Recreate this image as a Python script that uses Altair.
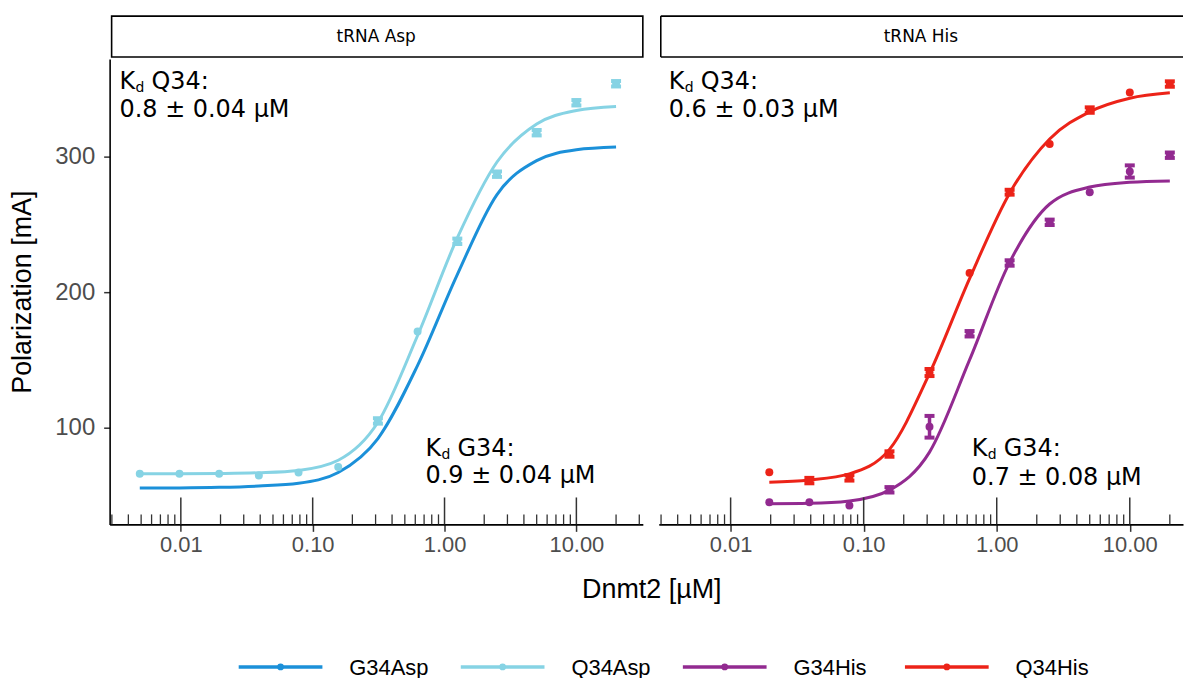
import altair as alt
import pandas as pd

# Dnmt2 titration steps (µM), two-fold dilutions
conc_asp = [0.0048828125, 0.009765625, 0.01953125, 0.0390625, 0.078125, 0.15625,
            0.3125, 0.625, 1.25, 2.5, 5.0, 10.0, 20.0]
conc_his = conc_asp[2:]

series_names = ["G34Asp", "Q34Asp", "G34His", "Q34His"]
series_colors = ["#1b90d9", "#86d3e4", "#922a90", "#ec2318"]

# measured polarization (mA): mean and spread per titration step
q34asp_mean = [66, 66, 66, 64.7, 67, 71, 105, 171, 237.5, 287, 317.6, 339.7, 353.7]
q34asp_sd = [0, 0, 0, 0, 0, 0, 2.0, 0, 2.0, 2.0, 2.0, 2.0, 2.0]
g34his_mean = [45.1, 45.1, 42.6, 54.2, 100.7, 169.3, 221.5, 251.5, 273.7, 289, 301]
g34his_sd = [0, 0, 0, 2.0, 8, 2.0, 2.0, 2.0, 0, 4.5, 2.0]
q34his_mean = [67.1, 61, 63, 80.6, 140.7, 214.2, 273.7, 309.3, 334.3, 347.3, 353.5]
q34his_sd = [0, 2.0, 2.0, 2.0, 2.6, 0, 1.8, 0, 2.0, 0, 2.0]

# fitted binding curves at each titration step
g34asp_fit = [55.5, 55.6, 56, 57, 59, 67, 92, 146, 213, 272, 297, 305, 307]
q34asp_fit = [66, 66, 66.2, 66.8, 68.5, 76, 104, 168, 240, 296, 324, 334, 337]
g34his_fit = [43.9, 44.2, 46, 54, 82, 150, 222, 265, 277.5, 281, 282]
q34his_fit = [59.8, 61.5, 66, 84, 140, 210, 273, 313, 333, 343, 347]

# K_d annotations: [x, y line 1, y line 2, label, value]
asp_notes = [[0.00343, 355.1, 334.5, "Q34:", "0.8 ± 0.04 µM"],
             [0.718, 84.6, 64.0, "G34:", "0.9 ± 0.04 µM"]]
his_notes = [[0.00343, 355.1, 334.5, "Q34:", "0.6 ± 0.03 µM"],
             [0.65, 84.6, 63.0, "G34:", "0.7 ± 0.08 µM"]]

x_ticks = [0.01, 0.1, 1, 10]
X_MIN = 10 ** -2.54
Y_DOMAIN = [28.7, 372]
H = 467
LABEL_FONT = "Liberation Sans"
NOTE_FONT = "DejaVu Sans"
NOTE_SIZE = 24

color_scale = alt.Scale(domain=series_names, range=series_colors)


def points_frame(name, conc, mean, sd):
    return pd.DataFrame({"series": name, "conc": conc, "pol": mean,
                         "lo": [m - s for m, s in zip(mean, sd)],
                         "hi": [m + s for m, s in zip(mean, sd)],
                         "sd": sd})


def fit_frame(name, conc, fit):
    return pd.DataFrame({"series": name, "conc": conc, "pol": fit})


def panel(points, fits, width, x_max, strip_label, notes, show_y, closed_strip):
    xs = alt.Scale(type="log", domain=[X_MIN, x_max], nice=False)
    ys = alt.Scale(domain=Y_DOMAIN, nice=False, zero=False)
    x_axis = alt.Axis(values=x_ticks, format=".2f", tickSize=7, tickWidth=1.5,
                      tickColor="#333333", domainColor="black", domainWidth=1.6,
                      labelColor="#4d4d4d", labelFontSize=22, labelFont=LABEL_FONT,
                      labelPadding=3, title=None, grid=False, labelFlush=False)
    if show_y:
        y_axis = alt.Axis(values=[100, 200, 300], tickSize=6, tickWidth=1.5,
                          tickColor="#333333", domainColor="black", domainWidth=1.6,
                          labelColor="#4d4d4d", labelFontSize=24, labelFont=LABEL_FONT,
                          labelPadding=9, title="Polarization [mA]", titleFontSize=27,
                          titleFont=LABEL_FONT, titleColor="black",
                          titleFontWeight="normal", titlePadding=18, grid=False)
    else:
        y_axis = None

    def xq(field):
        return alt.X(field, scale=xs, axis=x_axis)

    def yq(field):
        return alt.Y(field, scale=ys, axis=y_axis)

    color = alt.Color("series:N", scale=color_scale, legend=None)

    lines = alt.Chart(fits).mark_line(strokeWidth=3, interpolate="monotone").encode(
        x=xq("conc:Q"), y=yq("pol:Q"), color=color, detail="series:N")

    bars = points[points["sd"] > 0]
    err = alt.Chart(bars).mark_rule(strokeWidth=3.5).encode(
        x=xq("conc:Q"), y=yq("lo:Q"), y2="hi:Q", color=color)
    cap_lo = alt.Chart(bars).mark_rule(strokeWidth=4, xOffset=-5, x2Offset=5).encode(
        x=xq("conc:Q"), x2="conc:Q", y=yq("lo:Q"), color=color)
    cap_hi = alt.Chart(bars).mark_rule(strokeWidth=4, xOffset=-5, x2Offset=5).encode(
        x=xq("conc:Q"), x2="conc:Q", y=yq("hi:Q"), color=color)
    dots = alt.Chart(points).mark_circle(size=64, opacity=1).encode(
        x=xq("conc:Q"), y=yq("pol:Q"), color=color)

    # log ticks drawn inside the panel along the x axis
    minor = [m * 10.0 ** e for e in range(-3, 2) for m in range(2, 10)]
    minor = [t for t in minor if X_MIN <= t <= x_max]
    minor_ticks = alt.Chart(pd.DataFrame({"tick": minor})).mark_rule(
        color="#333333", strokeWidth=1.3).encode(
        x=xq("tick:Q"), y=alt.value(H), y2=alt.value(H - 10))
    major_ticks = alt.Chart(pd.DataFrame({"tick": x_ticks})).mark_rule(
        color="#333333", strokeWidth=1.5).encode(
        x=xq("tick:Q"), y=alt.value(H), y2=alt.value(H - 27))

    # facet strip
    one = pd.DataFrame({"label": [strip_label]})
    if closed_strip:
        strip_box = alt.Chart(one).mark_rect(fill="white", stroke="black", strokeWidth=1.6).encode(
            x=alt.value(2), x2=alt.value(width), y=alt.value(-43), y2=alt.value(-2))
        strip_parts = [strip_box]
    else:
        top = alt.Chart(one).mark_rule(color="black", strokeWidth=1.6).encode(
            x=alt.value(2), x2=alt.value(width), y=alt.value(-43))
        bottom = alt.Chart(one).mark_rule(color="black", strokeWidth=1.6).encode(
            x=alt.value(2), x2=alt.value(width), y=alt.value(-2))
        left = alt.Chart(one).mark_rule(color="black", strokeWidth=1.6).encode(
            x=alt.value(2), y=alt.value(-43), y2=alt.value(-2))
        strip_parts = [top, bottom, left]
    strip_text = alt.Chart(one).mark_text(font=NOTE_FONT, fontSize=17, color="black").encode(
        x=alt.value(width / 2), y=alt.value(-22), text="label:N")

    nd = pd.DataFrame(notes, columns=["x", "y1", "y2", "label", "value"])
    k_txt = alt.Chart(nd).mark_text(font=NOTE_FONT, fontSize=NOTE_SIZE, align="left",
                                    baseline="middle").encode(
        x=xq("x:Q"), y=yq("y1:Q"), text=alt.value("K"))
    d_txt = alt.Chart(nd).mark_text(font=NOTE_FONT, fontSize=14, align="left",
                                    baseline="middle", dx=16, dy=6).encode(
        x=xq("x:Q"), y=yq("y1:Q"), text=alt.value("d"))
    l_txt = alt.Chart(nd).mark_text(font=NOTE_FONT, fontSize=NOTE_SIZE, align="left",
                                    baseline="middle", dx=32).encode(
        x=xq("x:Q"), y=yq("y1:Q"), text="label:N")
    v_txt = alt.Chart(nd).mark_text(font=NOTE_FONT, fontSize=NOTE_SIZE, align="left",
                                    baseline="middle").encode(
        x=xq("x:Q"), y=yq("y2:Q"), text="value:N")

    return alt.layer(lines, err, cap_lo, cap_hi, dots, minor_ticks, major_ticks,
                     *strip_parts, strip_text, k_txt, d_txt, l_txt, v_txt).properties(
        width=width, height=H)


asp_points = points_frame("Q34Asp", conc_asp, q34asp_mean, q34asp_sd)
asp_fits = pd.concat([fit_frame("G34Asp", conc_asp, g34asp_fit),
                      fit_frame("Q34Asp", conc_asp, q34asp_fit)])
his_points = pd.concat([points_frame("G34His", conc_his, g34his_mean, g34his_sd),
                        points_frame("Q34His", conc_his, q34his_mean, q34his_sd)])
his_fits = pd.concat([fit_frame("G34His", conc_his, g34his_fit),
                      fit_frame("Q34His", conc_his, q34his_fit)])

left_panel = panel(asp_points, asp_fits, 535, 10 ** 1.504, "tRNA Asp", asp_notes, True, True)
right_panel = panel(his_points, his_fits, 526, 10 ** 1.40, "tRNA His", his_notes, False, False)

# x title and legend row
LW = 1076
LEG_Y = 112
leg = pd.DataFrame({"series": series_names})
leg_x = alt.X("series:N", scale=alt.Scale(type="point", domain=series_names,
                                          range=[171.5, 840], padding=0), axis=None)
leg_color = alt.Color("series:N", scale=color_scale, legend=None)
leg_line = alt.Chart(leg).mark_rule(strokeWidth=3.5, xOffset=-42, x2Offset=42).encode(
    x=leg_x, x2="series:N", y=alt.value(LEG_Y), color=leg_color)
leg_dot = alt.Chart(leg).mark_circle(size=45, opacity=1).encode(
    x=leg_x, y=alt.value(LEG_Y), color=leg_color)
leg_text = alt.Chart(leg).mark_text(font=LABEL_FONT, fontSize=22, align="left",
                                    baseline="middle", dx=69, color="black").encode(
    x=leg_x, y=alt.value(LEG_Y + 1), text="series:N")
x_title = alt.Chart(pd.DataFrame({"t": ["Dnmt2 [µM]"]})).mark_text(
    font=LABEL_FONT, fontSize=27, color="black", baseline="middle").encode(
    x=alt.value(544), y=alt.value(35), text="t:N")
bottom = alt.layer(x_title, leg_line, leg_dot, leg_text).properties(width=LW, height=122)

chart = alt.vconcat(
    alt.hconcat(left_panel, right_panel, spacing=15),
    bottom, spacing=0
).properties(
    padding={"left": 8, "top": 14, "right": 0, "bottom": 0},
    background="white"
).configure_view(stroke=None)

chart.save("out.html", embed_options={"renderer": "svg", "actions": False})
